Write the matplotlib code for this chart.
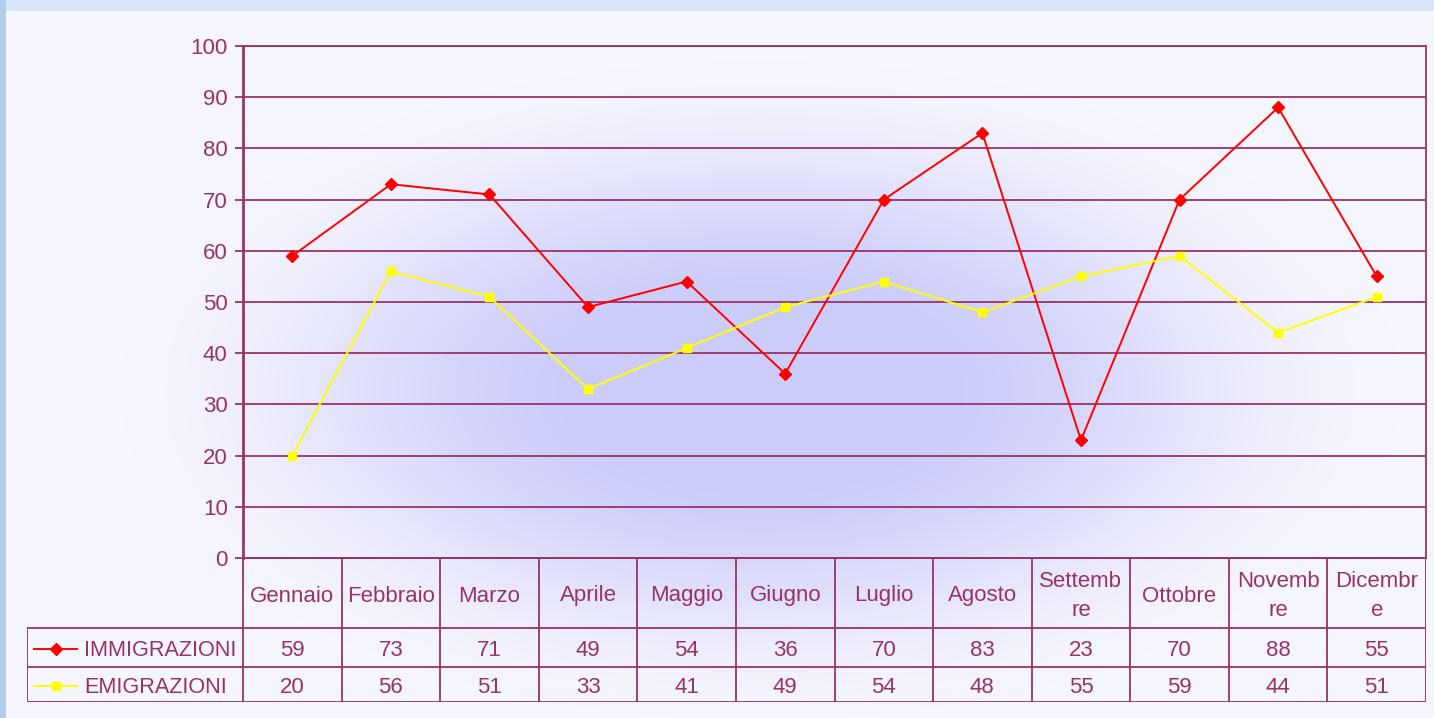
import numpy as np
import matplotlib
matplotlib.use('Agg')
import matplotlib.pyplot as plt

plt.rcParams['font.family'] = ['Liberation Sans', 'DejaVu Sans']

months = ['Gennaio', 'Febbraio', 'Marzo', 'Aprile', 'Maggio', 'Giugno',
          'Luglio', 'Agosto', 'Settemb\nre', 'Ottobre', 'Novemb\nre', 'Dicembr\ne']
immigrazioni = [59, 73, 71, 49, 54, 36, 70, 83, 23, 70, 88, 55]
emigrazioni = [20, 56, 51, 33, 41, 49, 54, 48, 55, 59, 44, 51]
series_names = ['IMMIGRAZIONI', 'EMIGRAZIONI']
series_colors = ['#ff0000', '#ffff00']
series_markers = ['D', 's']

W, H = 1434, 718
TXT = '#993366'

fig = plt.figure(figsize=(W / 100, H / 100), dpi=100)

# background: panel + radial glow + top band + left strip
bg = fig.add_axes([0, 0, 1, 1], zorder=-10)
yy, xx = np.mgrid[0:H, 0:W]
d = np.sqrt(((xx - 760) / 640.0) ** 2 + ((yy - 390) / 330.0) ** 2)
t = np.clip((1 - d) / 0.75, 0, 1)
t = t * t * (3 - 2 * t)
outer = np.array([0xf5, 0xf5, 0xfd]) / 255
inner = np.array([0xcc, 0xcc, 0xfb]) / 255
img = outer[None, None, :] * (1 - t[..., None]) + inner[None, None, :] * t[..., None]
img[:11, :, :] = np.array([0xd6, 0xe6, 0xf8]) / 255
img[:, :6, :] = np.array([0xb4, 0xcc, 0xeb]) / 255
bg.imshow(img, extent=[0, W, H, 0], aspect='auto', interpolation='bilinear')
bg.axis('off')

# plot area
x0, x1, ytop, ybot = 243, 1426, 46, 558
ax = fig.add_axes([x0 / W, 1 - ybot / H, (x1 - x0) / W, (ybot - ytop) / H])
ax.patch.set_alpha(0)
xs = np.arange(len(months))
for vals, name, c, m in zip([immigrazioni, emigrazioni], series_names, series_colors, series_markers):
    ms = 6.5 if m == 'D' else 6
    ax.plot(xs, vals, color=c, lw=1.4, marker=m, ms=ms, mec=c, mfc=c, zorder=3)
ax.set_xlim(-0.5, len(months) - 0.5)
ax.set_ylim(0, 100)
ax.set_yticks(range(0, 101, 10))
ax.set_xticks([])
ax.grid(axis='y', color=TXT, lw=1.3)
ax.set_axisbelow(True)
for s in ax.spines.values():
    s.set_color(TXT)
    s.set_linewidth(1.3)
ax.spines['left'].set_linewidth(2)
ax.tick_params(axis='y', colors=TXT, labelcolor=TXT, labelsize=16, length=6, width=1.3, pad=5)

# data table
tx0, tbot = 27, 702
tab = fig.add_axes([tx0 / W, 1 - tbot / H, (x1 - tx0) / W, (tbot - ybot) / H])
tab.patch.set_alpha(0)
colw = (x1 - x0) / len(months)
left_lim = -0.5 - (x0 - tx0) / colw
tab.set_xlim(left_lim, len(months) - 0.5)
tab.set_ylim(tbot, ybot)
tab.axis('off')
lk = dict(color=TXT, lw=1.3)
row_y = [ybot, 628, 667, tbot]
# horizontal lines
tab.plot([-0.5, len(months) - 0.5], [ybot, ybot], **lk)
for y in row_y[1:]:
    tab.plot([left_lim, len(months) - 0.5], [y, y], **lk)
# vertical lines
for i in range(len(months) + 1):
    tab.plot([i - 0.5, i - 0.5], [ybot, tbot], **lk)
tab.plot([left_lim, left_lim], [628, tbot], **lk)

for i, m in enumerate(months):
    tab.text(i, (ybot + 628) / 2 + 3, m, ha='center', va='center', color=TXT,
             fontsize=16, linespacing=1.45)
for r, vals in enumerate([immigrazioni, emigrazioni]):
    yc = (row_y[r + 1] + row_y[r + 2]) / 2 + 3
    for i, v in enumerate(vals):
        tab.text(i, yc, str(v), ha='center', va='center', color=TXT, fontsize=16)
    # legend key
    kx = left_lim + 7 / colw
    tab.plot([kx, kx + 43 / colw], [yc - 2, yc - 2], color=series_colors[r], lw=1.4)
    tab.plot([kx + 21.5 / colw], [yc - 2], marker=series_markers[r], color=series_colors[r],
             ms=6.5 if r == 0 else 6)
    tab.text(kx + 50 / colw, yc, series_names[r], ha='left', va='center', color=TXT,
             fontsize=15.6)

fig.savefig('out.png', dpi=100)
